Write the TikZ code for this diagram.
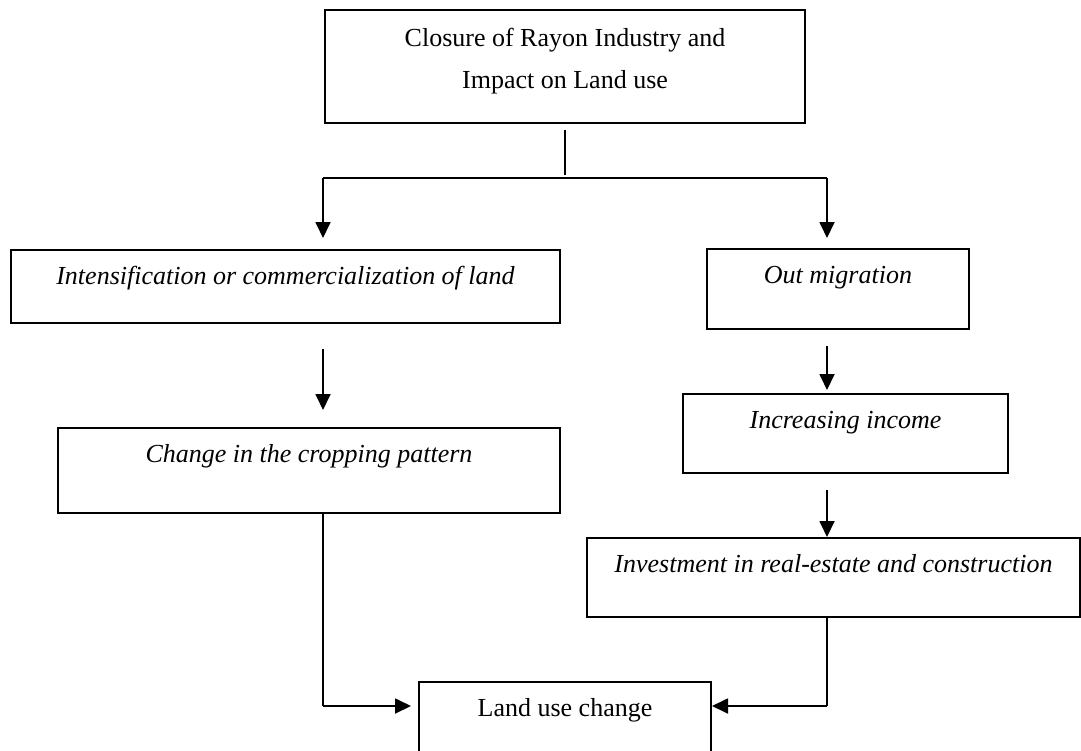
\documentclass[tikz,border=0pt]{standalone}
\usepackage{fontspec}
\setmainfont{Liberation Serif}
\usetikzlibrary{
  positioning,
  arrows.meta
}

\begin{document}
\begin{tikzpicture}[
  x=0.5pt, y=-0.5pt,
  box/.style={draw, line width=1pt, inner xsep=0pt, inner ysep=3pt,
              text height=14pt, font=\fontsize{13}{16}\selectfont\itshape},
  wire/.style={line width=0.9pt, black},
  arr/.style={-{Triangle[length=8pt, width=7.5pt]}, line width=0.9pt, black}
]
  \useasboundingbox (0,0) rectangle (1081,750);

  % Boxes
  \node[box, font=\fontsize{13}{21}\selectfont, align=center, minimum width=240pt,
        text height=36pt, text depth=14.5pt] (closure) at (565, 66.5) {
    Closure of Rayon Industry and\\
    Impact on Land use
  };

  \node[box, minimum width=274.5pt, text depth=16.5pt] (intens) at (285.5, 286.5)
    {Intensification or commercialization of land};
  \node[box, minimum width=131pt, text depth=20pt] (outmig) at (838, 289)
    {Out migration};
  \node[box, minimum width=251pt, text depth=22.5pt] (change) at (309, 470.5)
    {Change in the cropping pattern};
  \node[box, minimum width=162.5pt, text depth=19.5pt] (income) at (845.5, 433.5)
    {Increasing income};
  \node[box, minimum width=246.5pt, text depth=19.5pt] (invest) at (833.5, 577.5)
    {Investment in real-estate and construction};
  \node[box, font=\fontsize{13}{16}\selectfont, minimum width=146pt,
        text depth=24pt] (landuse) at (565, 726) {Land use change};

  % Connectors
  \coordinate (lcol) at (323, 178);
  \coordinate (rcol) at (827, 178);
  \coordinate (lfoot) at (323, 706);
  \coordinate (rfoot) at (827, 706);

  \draw[wire, shorten <=3pt, shorten >=1.5pt] (closure.south) -- (closure.south |- lcol);
  \draw[wire] (lcol) -- (rcol);
  \draw[arr, shorten >=5.5pt] (lcol) -- (lcol |- intens.north);
  \draw[arr, shorten >=5pt] (rcol) -- (rcol |- outmig.north);

  \draw[arr, shorten <=12.5pt, shorten >=8.5pt] (lcol |- intens.south) -- (lcol |- change.north);
  \draw[arr, shorten <=8pt, shorten >=1.5pt] (rcol |- outmig.south) -- (rcol |- income.north);
  \draw[arr, shorten <=8pt] (rcol |- income.south) -- (rcol |- invest.north);

  \draw[wire] (lcol |- change.south) -- (lfoot);
  \draw[arr, shorten >=3.5pt] (lfoot) -- (lfoot -| landuse.west);
  \draw[wire] (rcol |- invest.south) -- (rfoot);
  \draw[arr] (rfoot) -- (rfoot -| landuse.east);
\end{tikzpicture}
\end{document}
